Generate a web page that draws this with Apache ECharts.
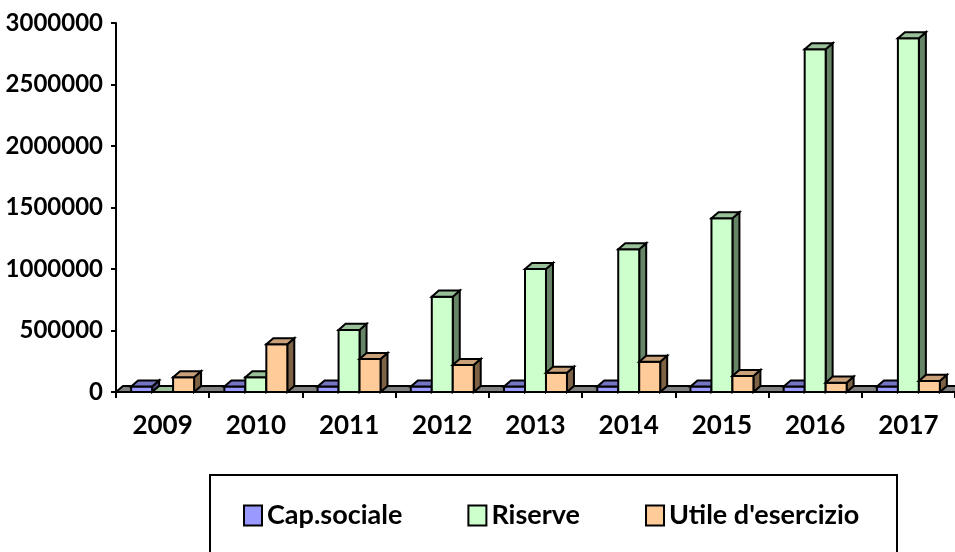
<!DOCTYPE html>
<html>
<head>
<meta charset="utf-8">
<title>Cap.sociale / Riserve / Utile</title>
<script src="https://cdn.jsdelivr.net/npm/echarts@6/dist/echarts.min.js"></script>
<style>
  html, body { margin: 0; padding: 0; background: #fff; }
  #chart { width: 955px; height: 552px; }
</style>
</head>
<body>
<div id="chart"></div>
<script>
// dati
const years = ['2009', '2010', '2011', '2012', '2013', '2014', '2015', '2016', '2017'];
const capSociale = [45000, 45000, 45000, 45000, 45000, 45000, 45000, 45000, 45000];
const riserve = [0, 120000, 505000, 775000, 1000000, 1160000, 1412000, 2786000, 2876000];
const utile = [120000, 388000, 268000, 220000, 157000, 246000, 130000, 76000, 90000];
const seriesNames = ['Cap.sociale', 'Riserve', "Utile d'esercizio"];

// front / top / side colours of the 3d bars
const colors = [
  { front: '#9999ff', top: '#7575c4', side: '#4d4d80' },
  { front: '#ccffcc', top: '#99c099', side: '#668466' },
  { front: '#ffcc99', top: '#c8a07a', side: '#7d6246' }
];

const FONT = 'Lato';

function bar3d(k) {
  return function (params, api) {
    const idx = api.value(0);
    const top = api.coord([idx, api.value(1)]);
    const base = api.coord([idx, 0]);
    const cw = api.size([1, 0])[0];
    const w = cw * 0.225;
    const dx = cw * 0.075;
    const dy = cw * 0.065;
    const x0 = top[0] + (k - 1.5) * w;
    const x1 = x0 + w;
    const yt = top[1];
    const yb = base[1];
    const c = colors[k];
    const line = { stroke: '#000', lineWidth: 2, lineJoin: 'miter' };
    return {
      type: 'group',
      children: [
        {
          type: 'polygon',
          shape: { points: [[x1, yt], [x1 + dx, yt - dy], [x1 + dx, yb - dy], [x1, yb]] },
          style: Object.assign({ fill: c.side }, line)
        },
        {
          type: 'rect',
          shape: { x: x0, y: yt, width: w, height: yb - yt },
          style: Object.assign({ fill: c.front }, line)
        },
        {
          type: 'polygon',
          shape: { points: [[x0, yt], [x0 + dx, yt - dy], [x1 + dx, yt - dy], [x1, yt]] },
          style: Object.assign({ fill: c.top }, line)
        }
      ]
    };
  };
}

// grey floor under the bars
function floor(params, api) {
  const cs = params.coordSys;
  const base = api.coord([0, 0]);
  const cw = api.size([1, 0])[0];
  const dx = cw * 0.075;
  const dy = cw * 0.065;
  const xl = cs.x;
  const xr = cs.x + cs.width;
  const y = base[1];
  return {
    type: 'polygon',
    shape: { points: [[xl, y], [xl + dx, y - dy], [xr + dx, y - dy], [xr, y]] },
    style: { fill: '#808080', stroke: '#000', lineWidth: 2 }
  };
}

const myChart = echarts.init(document.getElementById('chart'));

const option = {
  animation: false,
  backgroundColor: '#fff',
  grid: {
    left: 116,
    right: 0,
    top: 23,
    bottom: 160,
    containLabel: false,
    outerBoundsMode: 'none'
  },
  legend: {
    left: 243,
    top: 502,
    padding: 0,
    itemGap: 65,
    itemWidth: 18,
    itemHeight: 20,
    icon: 'rect',
    textStyle: { fontFamily: FONT, fontWeight: 'bold', fontSize: 27, color: '#000' },
    data: seriesNames.map((n, i) => ({
      name: n,
      itemStyle: { color: colors[i].front, borderColor: '#000', borderWidth: 2 }
    }))
  },
  graphic: [
    {
      type: 'rect',
      shape: { x: 210, y: 475, width: 687, height: 100 },
      style: { fill: 'none', stroke: '#000', lineWidth: 2 },
      z: 0
    }
  ],
  xAxis: {
    type: 'category',
    data: years,
    boundaryGap: true,
    axisLine: { lineStyle: { color: '#000', width: 2 } },
    axisTick: { show: true, length: 6, lineStyle: { color: '#000', width: 2 } },
    axisLabel: {
      margin: 21,
      fontFamily: FONT,
      fontWeight: 'bold',
      fontSize: 26,
      color: '#000'
    },
    splitLine: { show: false }
  },
  yAxis: {
    type: 'value',
    min: 0,
    max: 3000000,
    interval: 500000,
    axisLine: { show: true, lineStyle: { color: '#000', width: 2 } },
    axisTick: { show: true, length: 5, lineStyle: { color: '#000', width: 2 } },
    axisLabel: {
      margin: 13,
      fontFamily: FONT,
      fontWeight: 'bold',
      fontSize: 24,
      color: '#000',
      formatter: function (v) { return String(v); }
    },
    splitLine: { show: false }
  },
  series: [
    {
      name: 'floor',
      type: 'custom',
      renderItem: floor,
      data: [[0, 0]],
      clip: false,
      silent: true,
      z: 1
    },
    {
      name: seriesNames[0],
      type: 'custom',
      renderItem: bar3d(0),
      encode: { x: 0, y: 1 },
      data: capSociale.map((v, i) => [i, v]),
      itemStyle: { color: colors[0].front },
      clip: false,
      z: 2
    },
    {
      name: seriesNames[1],
      type: 'custom',
      renderItem: bar3d(1),
      encode: { x: 0, y: 1 },
      data: riserve.map((v, i) => [i, v]),
      itemStyle: { color: colors[1].front },
      clip: false,
      z: 3
    },
    {
      name: seriesNames[2],
      type: 'custom',
      renderItem: bar3d(2),
      encode: { x: 0, y: 1 },
      data: utile.map((v, i) => [i, v]),
      itemStyle: { color: colors[2].front },
      clip: false,
      z: 4
    }
  ]
};

myChart.setOption(option);
window.addEventListener('resize', function () {
  myChart.resize();
});
</script>
</body>
</html>
